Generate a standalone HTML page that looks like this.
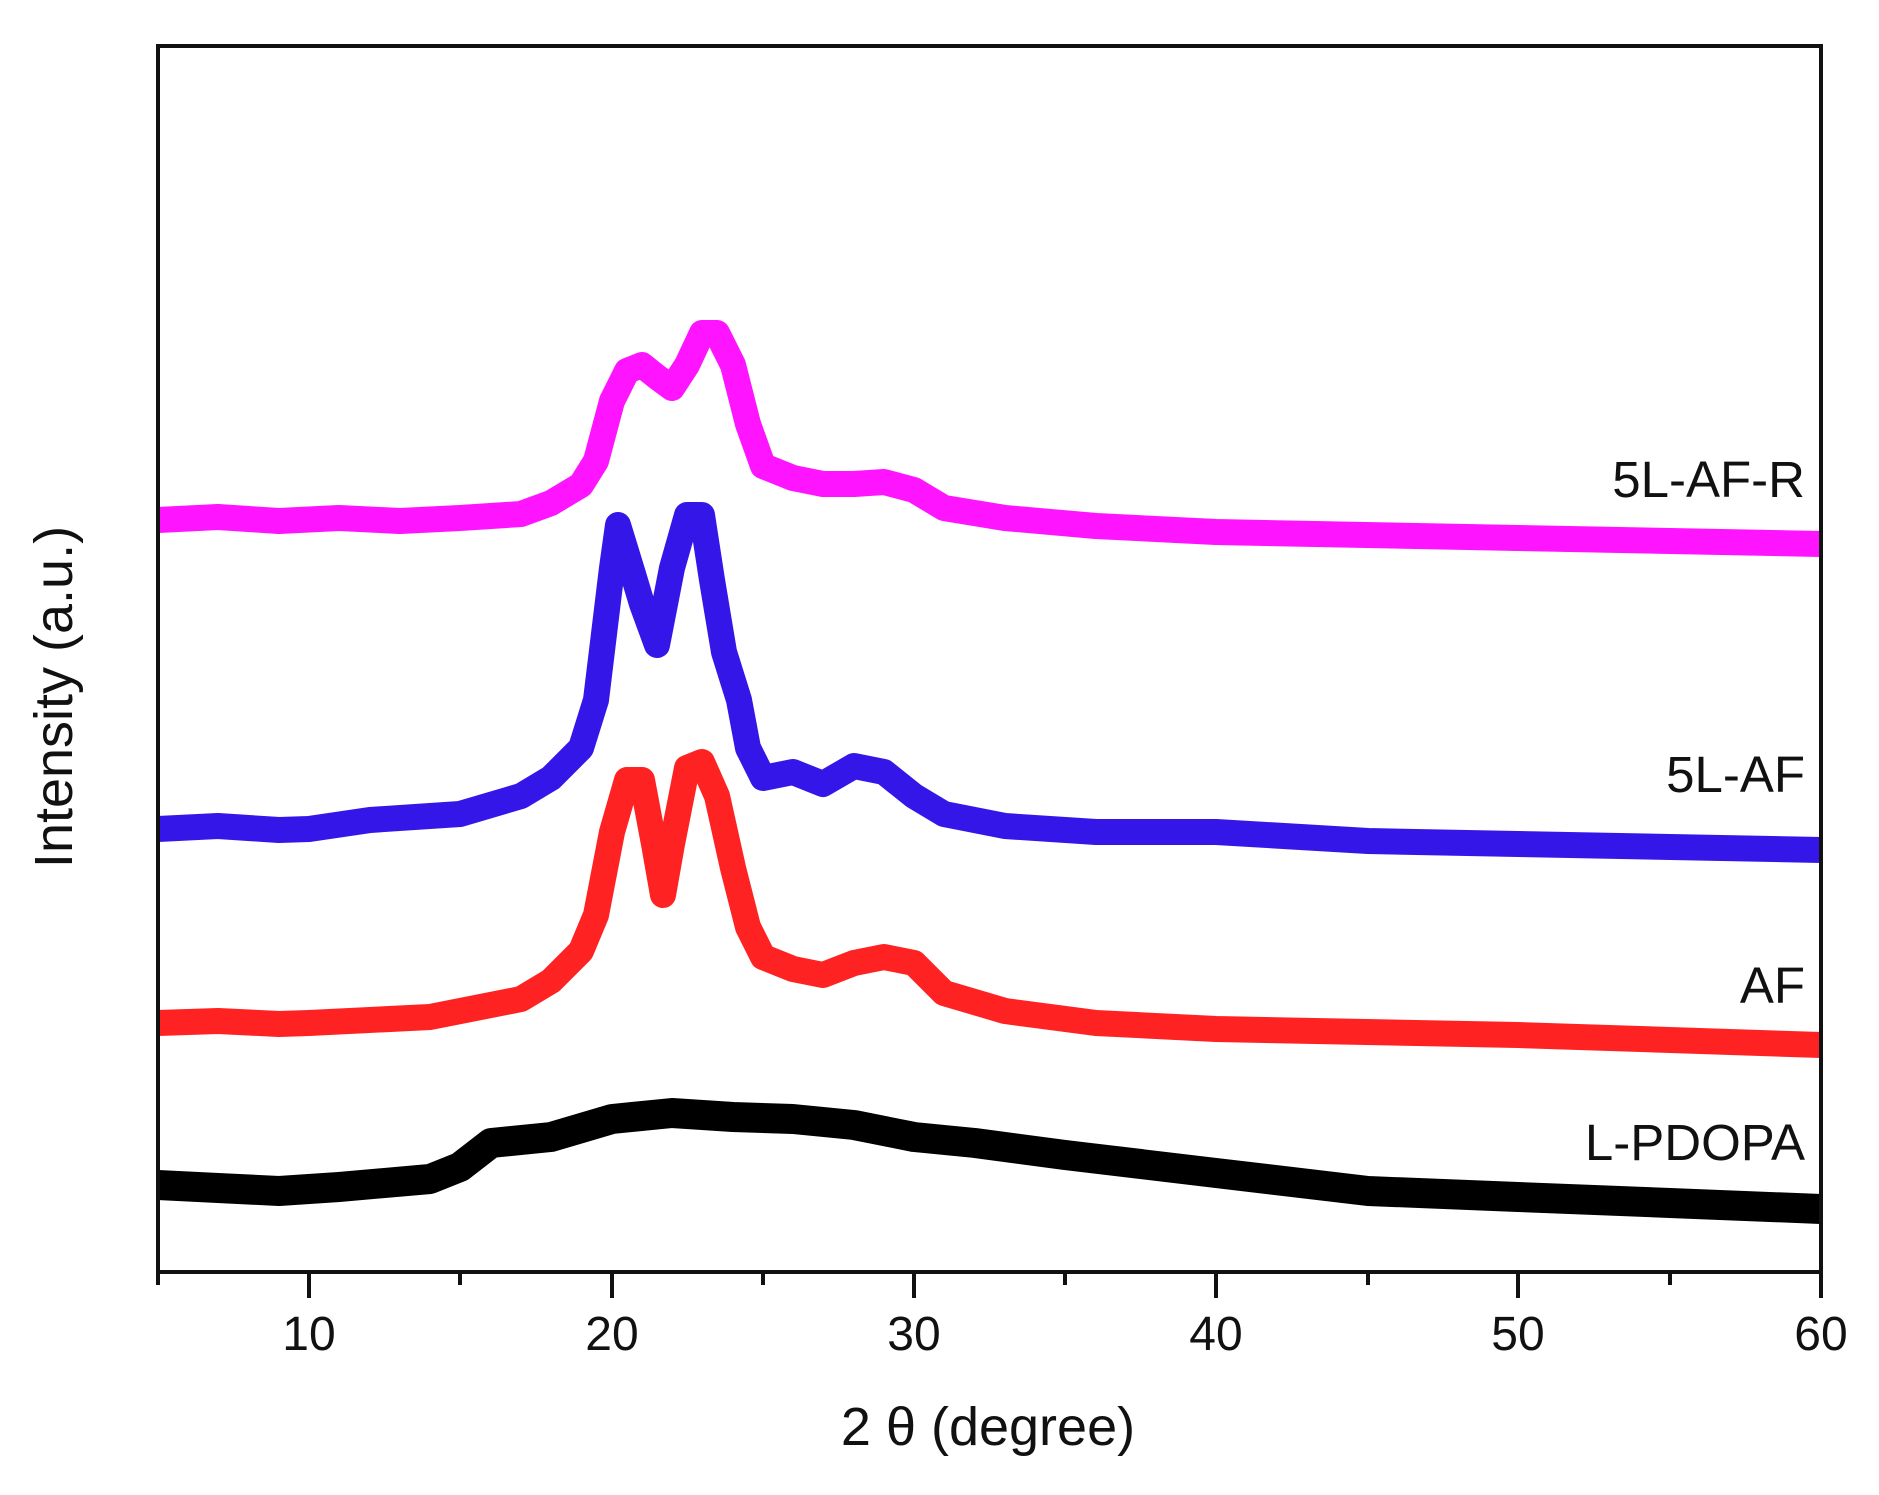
<!DOCTYPE html>
<html><head><meta charset="utf-8"><style>html,body{margin:0;padding:0;background:#fff}svg{display:block}</style></head>
<body>
<svg width="1879" height="1495" viewBox="0 0 1879 1495" xmlns="http://www.w3.org/2000/svg" font-family="Liberation Sans, Arial, sans-serif">
<rect width="1879" height="1495" fill="#fff"/>
<g fill="none" stroke-width="26" stroke-linejoin="round" stroke-linecap="butt">
<polyline stroke="#ff14ff" points="158,520 218,517 279,521 339,518 400,521 460,518 521,514 551,503 581,485 596,461 612,401 627,371 642,365 657,377 672,388 687,365 702,333 717,333 733,365 748,424 763,466 793,478 823,484 854,484 884,482 914,490 944,508 1005,518 1096,526 1216,532 1518,538 1821,544"/>
<polyline stroke="#3516e8" points="158,829 218,826 279,830 309,829 370,820 460,814 521,796 551,778 581,748 596,700 612,568 618,525 633,574 642,604 657,645 672,568 687,515 702,515 712,580 724,652 739,700 748,748 763,778 793,772 823,784 854,766 884,772 914,796 944,814 1005,826 1096,832 1216,832 1368,841 1518,844 1821,850"/>
<polyline stroke="#ff2222" points="158,1023 218,1021 279,1024 309,1023 430,1017 521,999 551,981 581,951 596,915 612,832 627,780 642,780 654,844 663,895 672,844 687,768 702,762 717,796 733,868 748,927 763,957 793,969 823,975 854,963 884,957 914,963 944,993 1005,1011 1096,1023 1216,1029 1518,1035 1821,1045"/>
<polyline stroke="#000" stroke-width="30" points="158,1185 218,1188 279,1191 339,1187 430,1179 460,1167 491,1143 551,1137 612,1119 672,1113 733,1117 793,1119 854,1125 914,1137 975,1143 1065,1155 1216,1173 1368,1191 1518,1197 1670,1203 1821,1209"/>
</g>
<path d="M158 46 H1821 V1272 H158 Z" stroke="#111" stroke-width="4" fill="none"/>
<g stroke="#111" stroke-width="4">
<line x1="158" y1="1272" x2="158" y2="1285"/>
<line x1="309" y1="1272" x2="309" y2="1298"/>
<line x1="460" y1="1272" x2="460" y2="1285"/>
<line x1="612" y1="1272" x2="612" y2="1298"/>
<line x1="763" y1="1272" x2="763" y2="1285"/>
<line x1="914" y1="1272" x2="914" y2="1298"/>
<line x1="1065" y1="1272" x2="1065" y2="1285"/>
<line x1="1216" y1="1272" x2="1216" y2="1298"/>
<line x1="1368" y1="1272" x2="1368" y2="1285"/>
<line x1="1518" y1="1272" x2="1518" y2="1298"/>
<line x1="1670" y1="1272" x2="1670" y2="1285"/>
<line x1="1821" y1="1272" x2="1821" y2="1298"/>
</g>
<g font-size="48" fill="#111" text-anchor="middle">
<text x="309" y="1350">10</text>
<text x="612" y="1350">20</text>
<text x="914" y="1350">30</text>
<text x="1216" y="1350">40</text>
<text x="1518" y="1350">50</text>
<text x="1821" y="1350">60</text>
</g>
<g font-size="51" fill="#111" text-anchor="end">
<text x="1805" y="497">5L-AF-R</text>
<text x="1805" y="792">5L-AF</text>
<text x="1805" y="1003">AF</text>
<text x="1805" y="1160">L-PDOPA</text>
</g>
<text x="988" y="1445" font-size="54" text-anchor="middle" fill="#111">2 θ (degree)</text>
<text transform="translate(72,697) rotate(-90)" font-size="54" text-anchor="middle" fill="#111">Intensity (a.u.)</text>
</svg>
</body></html>
